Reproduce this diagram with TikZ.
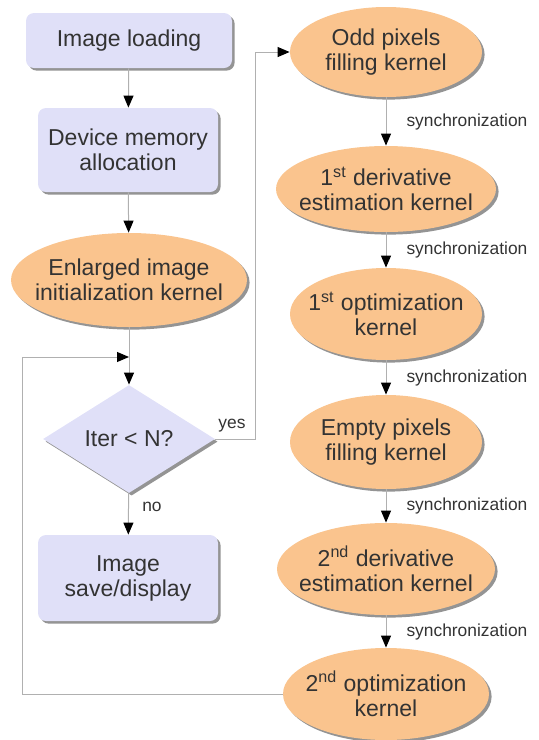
\documentclass[tikz,border=0pt]{standalone}
\usepackage{fontspec}
\setmainfont{Liberation Sans}
\usetikzlibrary{arrows.meta, shapes.geometric, shadows}

\definecolor{boxfill}{RGB}{224,224,248}
\definecolor{kernfill}{RGB}{250,196,142}
\definecolor{textgray}{RGB}{51,51,51}
\definecolor{linegray}{RGB}{176,176,176}

\tikzset{
  shade/.style={drop shadow={shadow xshift=1.3pt, shadow yshift=-1.3pt, fill=black!60, opacity=0.7}},
  procbox/.style={rectangle, rounded corners=4pt, fill=boxfill, shade, align=center,
    text=textgray, inner sep=0pt, font=\fontsize{11.5}{12.5}\selectfont},
  kernel/.style={ellipse, fill=kernfill, shade, align=center, text=textgray,
    inner xsep=-14pt, inner ysep=-6pt, font=\fontsize{11.5}{12.5}\selectfont},
  decision/.style={diamond, fill=boxfill, shade, aspect=1.6, text=textgray,
    inner sep=0pt, font=\fontsize{11.5}{12.5}\selectfont},
  flow/.style={draw=linegray, line width=0.5pt, -{Triangle[length=6pt,width=5pt,color=black]}},
  note/.style={text=textgray, inner sep=0pt, font=\fontsize{8.7}{10}\selectfont}
}

\begin{document}
\begin{tikzpicture}[x=0.5pt, y=-0.5pt]
  \useasboundingbox (0,0) rectangle (538,740);

  % left column
  \node[procbox, minimum width=103pt, minimum height=27.5pt] (load) at (129,40.5) {Image loading};
  \node[procbox, minimum width=90pt, minimum height=42pt] (alloc) at (128,150) {Device memory\\allocation};
  \node[kernel, minimum width=118pt, minimum height=47pt] (init) at (129,280) {Enlarged image\\initialization kernel};
  \node[decision, minimum width=86pt, minimum height=54pt] (iter) at (129,439) {Iter < N?};
  \node[procbox, minimum width=90pt, minimum height=43pt] (save) at (128,578) {Image\\save/display};

  % right column
  \node[kernel, minimum width=96pt, minimum height=45pt] (odd) at (386,52) {Odd pixels\\filling kernel};
  \node[kernel, minimum width=110pt, minimum height=43pt] (der1) at (386,189) {1\textsuperscript{st} derivative\\estimation kernel};
  \node[kernel, minimum width=96pt, minimum height=46pt] (opt1) at (386,314) {1\textsuperscript{st} optimization\\kernel};
  \node[kernel, minimum width=96pt, minimum height=47pt] (empty) at (386,442) {Empty pixels\\filling kernel};
  \node[kernel, minimum width=109pt, minimum height=46pt] (der2) at (386,569) {2\textsuperscript{nd} derivative\\estimation kernel};
  \node[kernel, minimum width=103pt, minimum height=46pt] (opt2) at (386,694) {2\textsuperscript{nd} optimization\\kernel};

  \coordinate (join) at (129,357);
  \coordinate (yesturn) at (255,52);
  \coordinate (backturn) at (22,357);

  \draw[flow] (load) -- (alloc);
  \draw[flow] (alloc) -- (init);
  \draw[flow] (init) -- (iter);
  \draw[flow] (iter) -- (save);
  \draw[flow] (iter.east) -| (yesturn) -- (odd.west);
  \draw[flow] (opt2.west) -| (backturn) -- (join);
  \node[note] (yes) at (232,426) {yes};
  \node[note] (no) at (152,507) {no};

  \foreach \a/\b in {odd/der1, der1/opt1, opt1/empty, empty/der2, der2/opt2}
    \draw[flow] (\a.south) -- (\b.north) node[note, midway, right=10pt] {synchronization};
\end{tikzpicture}
\end{document}
